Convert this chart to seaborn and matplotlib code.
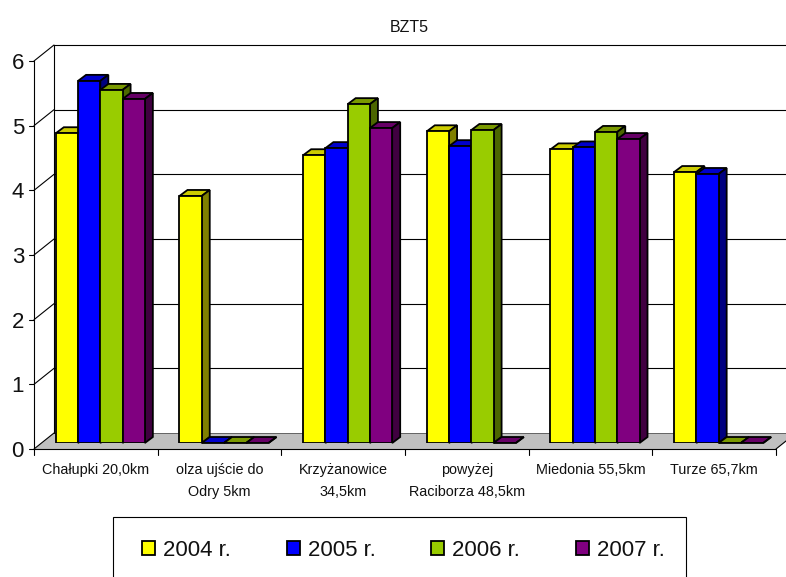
import pandas as pd
import matplotlib.pyplot as plt
import seaborn as sns
from matplotlib.lines import Line2D
from matplotlib.patches import Polygon, Rectangle
from matplotlib.transforms import Affine2D, IdentityTransform

stations = ['Chałupki 20,0km', 'olza ujście do\nOdry 5km', 'Krzyżanowice\n34,5km',
            'powyżej\nRaciborza 48,5km', 'Miedonia 55,5km', 'Turze 65,7km']
years = ['2004 r.', '2005 r.', '2006 r.', '2007 r.']
bzt_2004 = [4.79, 3.82, 4.45, 4.82, 4.54, 4.19]
bzt_2005 = [5.60, 0, 4.56, 4.59, 4.57, 4.16]
bzt_2006 = [5.46, 0, 5.24, 4.84, 4.81, 0]
bzt_2007 = [5.32, 0, 4.87, 0, 4.70, 0]
yticks = [0, 1, 2, 3, 4, 5, 6]

front = ['#FFFF00', '#0000FF', '#99CC00', '#800080']
top = ['#CCCC00', '#0000CC', '#7A9900', '#660066']
side = ['#808000', '#000080', '#4C6600', '#400040']

data = pd.DataFrame({
    'station': stations * 4,
    'year': [y for y in years for _ in stations],
    'bzt': bzt_2004 + bzt_2005 + bzt_2006 + bzt_2007,
})

sns.set_theme(style='white')
plt.rcParams['font.family'] = ['Liberation Sans', 'DejaVu Sans']

W, H = 786, 577
fig = plt.figure(figsize=(W / 100, H / 100), dpi=100)
ax = fig.add_axes([38.5 / W, (H - 443) / H, 742 / W, 388 / H])
ax.patch.set_alpha(0)

sns.barplot(data=data, x='station', y='bzt', hue='year', palette=front, width=0.72,
            saturation=1, edgecolor='black', linewidth=1.3, ax=ax, legend=True)
ax.set_xlim(-0.5, 5.5)
ax.set_ylim(0, 6)
ax.set_xlabel('')
ax.set_ylabel('')
sns.despine(ax=ax, left=True, bottom=True)
ax.set_yticks(yticks)
ax.tick_params(axis='y', length=0, pad=7.2, labelsize=16, colors='#111111')
ax.tick_params(axis='x', length=0, pad=10.0, labelsize=10.4, colors='#111111')
for t in ax.get_yticklabels():
    t.set_transform(t.get_transform() + Affine2D().translate(-4.5, -6))
for t in ax.get_xticklabels():
    t.set_linespacing(1.75)
    t.set_transform(t.get_transform() + Affine2D().translate(-4.5, -6))
ax.set_title('BZT5', fontsize=11.5, pad=16.5, color='#111111')


def px(x, v, dx=0, dy=0):
    # data position plus an offset in pixels (depth of the fake 3D)
    p = ax.transData.transform((x, v))
    return p[0] + dx, p[1] + dy


def line(p1, p2, color='black', lw=0.8, z=1):
    ax.add_line(Line2D([p1[0], p2[0]], [p1[1], p2[1]], color=color, lw=lw, zorder=z,
                       transform=IdentityTransform(), clip_on=False))


def poly(points, fc, z, ec='black', lw=1.3):
    ax.add_patch(Polygon(points, closed=True, facecolor=fc, edgecolor=ec, linewidth=lw,
                         zorder=z, transform=IdentityTransform(), clip_on=False))


# floor, walls and gridlines around the bar plane
x_left, x_right = -0.5, 5.5
front_off = (-4.5, -6)
back_off = (15.5, 10)
poly([px(x_left, 0, *front_off), px(x_right, 0, *front_off),
      px(x_right, 0, *back_off), px(x_left, 0, *back_off)], '#C0C0C0', 0.5, ec='none')
line(px(x_left, 0, *back_off), px(x_right, 0, *back_off), color='#555555', lw=0.6, z=0.6)
line(px(x_left, 0, *front_off), px(x_right, 0, *front_off))
line(px(x_left, 0, *front_off), px(x_left, 6, *front_off))
line(px(x_left, 0, *back_off), px(x_left, 6, *back_off))
line(px(x_right, 0, *front_off), px(x_right, 0, *back_off))
for v in yticks:
    line(px(x_left, v, *front_off), px(x_left, v, *back_off))
    line(px(x_left, v, *front_off), px(x_left, v, front_off[0] - 5, front_off[1]))
    if v > 0:
        line(px(x_left, v, *back_off), px(x_right, v, *back_off))
for k in range(len(stations) + 1):
    line(px(x_left + k, 0, *front_off), px(x_left + k, 0, front_off[0], front_off[1] - 6))

# top and side faces for every bar
dx, dy = 8, 6
for i, bars in enumerate(ax.containers):
    for bar in bars:
        x0, x1 = bar.get_x(), bar.get_x() + bar.get_width()
        v = bar.get_height()
        bar.set_zorder(2 + i + 0.5)
        poly([px(x0, v), px(x1, v), px(x1, v, dx, dy), px(x0, v, dx, dy)], top[i], 2 + i)
        poly([px(x1, 0), px(x1, v), px(x1, v, dx, dy), px(x1, 0, dx, dy)], side[i], 2 + i)

# legend box runs off the bottom of the picture
fig.add_artist(Rectangle((113 / W, -0.05), 573 / W, (H - 517) / H + 0.05, fill=False,
                         edgecolor='black', linewidth=0.8, transform=fig.transFigure))
handles, labels = ax.get_legend_handles_labels()
ax.get_legend().remove()
leg = fig.legend(handles, labels, ncol=4, frameon=False, fontsize=16, loc='center',
                 bbox_to_anchor=(403.5 / W, (H - 550) / H), handlelength=0.59, handleheight=0.59,
                 handletextpad=0.36, columnspacing=2.5, labelcolor='#111111')

fig.savefig('out.png', dpi=100)
